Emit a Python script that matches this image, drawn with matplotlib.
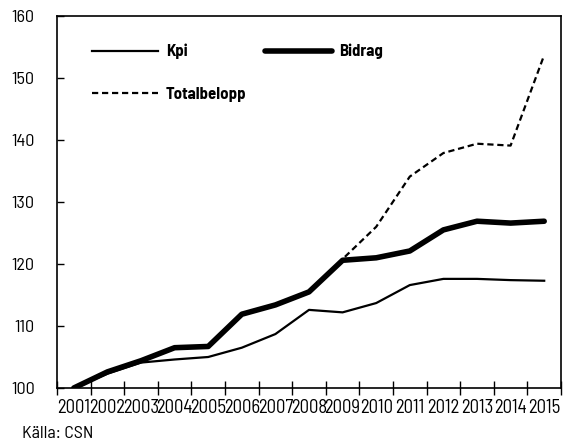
import numpy as np
import matplotlib
matplotlib.use("Agg")
import matplotlib.pyplot as plt

years = ["2001", "2002", "2003", "2004", "2005", "2006", "2007", "2008",
         "2009", "2010", "2011", "2012", "2013", "2014", "2015"]
kpi = [100, 102.3, 104.1, 104.6, 105.0, 106.5, 108.7, 112.6,
       112.2, 113.7, 116.6, 117.6, 117.6, 117.4, 117.3]
bidrag = [100, 102.6, 104.4, 106.5, 106.7, 111.9, 113.4, 115.5,
          120.6, 121.0, 122.1, 125.5, 126.9, 126.6, 126.9]
totalbelopp = [100, 102.6, 104.4, 106.5, 106.7, 111.9, 113.4, 115.5,
               120.8, 126.0, 134.1, 137.9, 139.4, 139.1, 153.7]

plt.rcParams['font.family'] = ['Barlow Semi Condensed', 'DejaVu Sans']

fig = plt.figure(figsize=(5.63, 4.45), dpi=100)
ax = fig.add_axes([57 / 563, 57 / 445, 504 / 563, 372 / 445])

x = np.arange(len(years))
l_kpi, = ax.plot(x, kpi, color='black', lw=1.6, label="Kpi")
l_tot, = ax.plot(x, totalbelopp, color='black', lw=1.6, dashes=(2.8, 1.7),
                 label="Totalbelopp")
l_bid, = ax.plot(x, bidrag, color='black', lw=4, solid_capstyle='round',
                 solid_joinstyle='round', label="Bidrag")

ax.set_xlim(-0.5, len(years) - 0.5)
ax.set_ylim(100, 160)
ax.set_yticks(range(100, 161, 10))
ax.tick_params(axis='y', direction='in', length=5, width=1, labelsize=13, pad=16)

ax.set_xticks(np.arange(-0.5, len(years), 1))
ax.set_xticklabels([])
ax.tick_params(axis='x', which='major', direction='inout', length=10, width=1)
ax.set_xticks(x, minor=True)
ax.set_xticklabels(years, minor=True, fontsize=13.5)
ax.tick_params(axis='x', which='minor', length=0, pad=8)

for s in ax.spines.values():
    s.set_linewidth(1.2)

ax.legend(handles=[l_kpi, l_tot, l_bid], ncol=2, loc='upper left',
          bbox_to_anchor=(0.069, 0.925), frameon=False, borderpad=0,
          borderaxespad=0, handlelength=4.0, handletextpad=0.45,
          columnspacing=1.1, labelspacing=1.65,
          prop={'weight': 'bold', 'size': 12})

fig.text(22 / 563, 1 - 434 / 445, "Källa: CSN", fontsize=13, va='center')

fig.savefig("out.png", dpi=100)
